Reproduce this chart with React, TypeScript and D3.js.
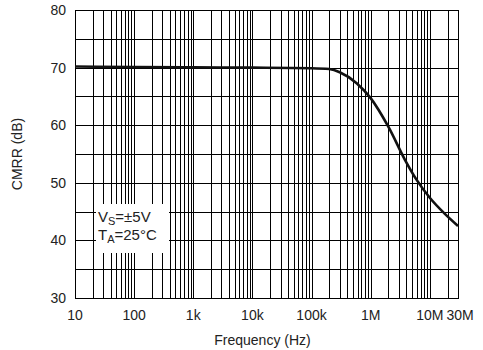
import React, { useEffect, useRef } from 'react'
import * as d3 from 'd3'

// CMRR vs frequency
const freqs = [10, 100, 1e3, 1e4, 1e5, 2e5, 3e5, 5.8e5, 1e6, 2e6, 3.8e6, 6e6, 1e7, 1.8e7, 3e7]
const cmrr = [70.2, 70.1, 70.05, 70.0, 69.9, 69.75, 69.2, 67.3, 64.7, 59.7, 54.0, 50.5, 47.4, 44.6, 42.5]

const xTickVals = [10, 100, 1e3, 1e4, 1e5, 1e6, 1e7, 3e7]
const xTickLabels = ['10', '100', '1k', '10k', '100k', '1M', '10M', '30M']
const yTickVals = [30, 40, 50, 60, 70, 80]

const FONT = '"Liberation Sans Narrow", "Arial Narrow", "Liberation Sans", Arial, sans-serif'

function CmrrChart() {
  const ref = useRef<SVGSVGElement>(null)

  useEffect(() => {
    const svg = d3.select(ref.current)
    svg.selectAll('*').remove()

    const margin = { top: 10, right: 25, bottom: 52, left: 75 }
    const width = 483 - margin.left - margin.right
    const height = 350 - margin.top - margin.bottom

    const x = d3.scaleLog().domain([10, 3e7]).range([0, width])
    const y = d3.scaleLinear().domain([30, 80]).range([height, 0])

    const g = svg.append('g').attr('transform', `translate(${margin.left},${margin.top})`)

    // vertical grid: 1..9 in every decade
    const vGrid: number[] = []
    for (let dec = 10; dec < 3e7; dec *= 10) {
      for (let m = 1; m < 10; m++) {
        const v = dec * m
        if (v <= 3e7) vGrid.push(v)
      }
    }
    vGrid.push(3e7)

    const hGrid = d3.range(30, 80.1, 5)

    g.append('g')
      .selectAll('line')
      .data(vGrid)
      .join('line')
      .attr('x1', d => Math.round(x(d)) + 0.5)
      .attr('x2', d => Math.round(x(d)) + 0.5)
      .attr('y1', 0)
      .attr('y2', height)
      .attr('stroke', '#000')
      .attr('stroke-width', 1)

    g.append('g')
      .selectAll('line')
      .data(hGrid)
      .join('line')
      .attr('x1', 0)
      .attr('x2', width)
      .attr('y1', d => Math.round(y(d)) + 0.5)
      .attr('y2', d => Math.round(y(d)) + 0.5)
      .attr('stroke', '#000')
      .attr('stroke-width', 1)

    // white box behind the conditions text
    g.append('rect')
      .attr('x', 21)
      .attr('y', 194)
      .attr('width', 73)
      .attr('height', 49)
      .attr('fill', '#fff')

    g.append('rect')
      .attr('x', 0.5)
      .attr('y', 0.5)
      .attr('width', width)
      .attr('height', height)
      .attr('fill', 'none')
      .attr('stroke', '#000')
      .attr('stroke-width', 1)

    const line = d3.line<number>()
      .x((d, i) => x(freqs[i]))
      .y(d => y(d))
      .curve(d3.curveMonotoneX)

    g.append('path')
      .datum(cmrr)
      .attr('d', line)
      .attr('fill', 'none')
      .attr('stroke', '#111')
      .attr('stroke-width', 2.6)

    const txt = '#222'

    g.append('g')
      .selectAll('text')
      .data(yTickVals)
      .join('text')
      .attr('x', -9)
      .attr('y', d => y(d) + 5)
      .attr('text-anchor', 'end')
      .attr('font-family', FONT)
      .attr('font-size', 14)
      .attr('fill', txt)
      .text(d => d)

    g.append('g')
      .selectAll('text')
      .data(xTickVals)
      .join('text')
      .attr('x', (d, i) => x(d) + (i === xTickVals.length - 1 ? 2 : 0))
      .attr('y', height + 22)
      .attr('text-anchor', 'middle')
      .attr('font-family', FONT)
      .attr('font-size', 14)
      .attr('fill', txt)
      .text((d, i) => xTickLabels[i])

    svg.append('text')
      .attr('x', margin.left + width / 2 - 4)
      .attr('y', 345)
      .attr('text-anchor', 'middle')
      .attr('font-family', FONT)
      .attr('font-size', 14)
      .attr('fill', txt)
      .text('Frequency (Hz)')

    svg.append('text')
      .attr('transform', `translate(22,${margin.top + height / 2}) rotate(-90)`)
      .attr('text-anchor', 'middle')
      .attr('font-family', FONT)
      .attr('font-size', 14)
      .attr('fill', txt)
      .text('CMRR (dB)')

    const t1 = g.append('text')
      .attr('x', 23)
      .attr('y', 212)
      .attr('font-family', FONT)
      .attr('font-size', 15)
      .attr('fill', txt)
    t1.append('tspan').text('V')
    t1.append('tspan').attr('font-size', 11).attr('dy', 3).text('S')
    t1.append('tspan').attr('dy', -3).text('=±5V')

    const t2 = g.append('text')
      .attr('x', 23)
      .attr('y', 230)
      .attr('font-family', FONT)
      .attr('font-size', 15)
      .attr('fill', txt)
    t2.append('tspan').text('T')
    t2.append('tspan').attr('font-size', 11).attr('dy', 3).text('A')
    t2.append('tspan').attr('dy', -3).text('=25°C')
  }, [])

  return <svg ref={ref} width={483} height={350} style={{ display: 'block' }} />
}

export default function App() {
  return (
    <div style={{ position: 'absolute', left: 0, top: 0 }}>
      <CmrrChart />
    </div>
  )
}
